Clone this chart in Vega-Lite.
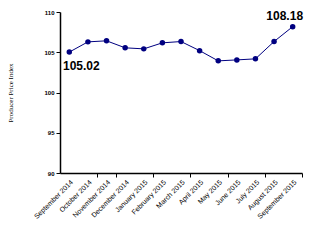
{
  "$schema": "https://vega.github.io/schema/vega-lite/v6.json",
  "width": 242,
  "height": 161,
  "autosize": {"type": "none"},
  "padding": {"left": 60, "top": 12, "right": 9, "bottom": 72},
  "background": "white",
  "config": {"view": {"stroke": null}},
  "data": {
    "values": [
      {"month": "September 2014", "ppi": 105.02, "label": "105.02"},
      {"month": "October 2014", "ppi": 106.29, "label": ""},
      {"month": "November 2014", "ppi": 106.42, "label": ""},
      {"month": "December 2014", "ppi": 105.55, "label": ""},
      {"month": "January 2015", "ppi": 105.42, "label": ""},
      {"month": "February 2015", "ppi": 106.17, "label": ""},
      {"month": "March 2015", "ppi": 106.33, "label": ""},
      {"month": "April 2015", "ppi": 105.2, "label": ""},
      {"month": "May 2015", "ppi": 103.93, "label": ""},
      {"month": "June 2015", "ppi": 104.05, "label": ""},
      {"month": "July 2015", "ppi": 104.18, "label": ""},
      {"month": "August 2015", "ppi": 106.33, "label": ""},
      {"month": "September 2015", "ppi": 108.18, "label": "108.18"}
    ]
  },
  "encoding": {
    "y": {
      "field": "ppi", "type": "quantitative",
      "scale": {"domain": [90, 110], "nice": false, "zero": false},
      "axis": {
        "title": "Producer Price Index", "titleFont": "Liberation Serif", "titleFontSize": 7,
        "titleFontWeight": "normal", "titleColor": "black", "titlePadding": 30,
        "values": [90, 95, 100, 105, 110],
        "labelFont": "Liberation Sans", "labelFontSize": 6, "labelFontWeight": "bold", "labelColor": "black",
        "tickColor": "black", "tickSize": 4, "domainColor": "black", "domainWidth": 1.5, "grid": false
      }
    }
  },
  "resolve": {"axis": {"x": "independent"}},
  "layer": [
    {
      "mark": {"type": "line", "color": "#000080", "strokeWidth": 1},
      "encoding": {
        "x": {
          "field": "month", "type": "ordinal", "sort": null,
          "scale": {"type": "band", "paddingInner": 0, "paddingOuter": 0},
          "axis": {
            "orient": "bottom", "title": null, "labelAngle": -45, "labelAlign": "right", "labelBaseline": "top",
            "labelFont": "Liberation Sans", "labelFontSize": 7, "labelColor": "black",
            "ticks": false, "domainColor": "black", "domainWidth": 1.5, "labelPadding": 5, "grid": false
          }
        }
      }
    },
    {
      "mark": {"type": "point", "filled": true, "color": "#000080", "opacity": 1, "size": 30},
      "encoding": {
        "x": {
          "field": "month", "type": "ordinal", "sort": null,
          "scale": {"type": "band", "paddingInner": 0, "paddingOuter": 0},
          "axis": {
            "orient": "bottom", "title": null, "labels": false, "domain": false,
            "values": ["September 2014", "November 2014", "January 2015", "March 2015", "May 2015", "July 2015", "September 2015"],
            "tickBand": "extent", "tickColor": "black", "tickSize": 4, "tickWidth": 1, "grid": false
          }
        }
      }
    },
    {
      "transform": [{"filter": "datum.month === 'September 2014'"}],
      "mark": {"type": "text", "font": "Liberation Sans", "fontSize": 12, "fontWeight": "bold", "color": "black", "dx": 12, "dy": 14},
      "encoding": {
        "x": {"field": "month", "type": "ordinal", "sort": null, "axis": null},
        "text": {"field": "label"}
      }
    },
    {
      "transform": [{"filter": "datum.month === 'September 2015'"}],
      "mark": {"type": "text", "font": "Liberation Sans", "fontSize": 12, "fontWeight": "bold", "color": "black", "dx": -8, "dy": -11},
      "encoding": {
        "x": {"field": "month", "type": "ordinal", "sort": null, "axis": null},
        "text": {"field": "label"}
      }
    }
  ]
}
